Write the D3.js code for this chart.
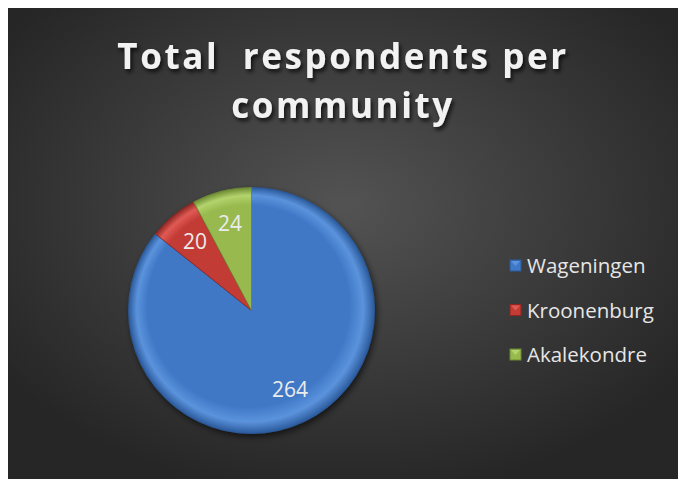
<!DOCTYPE html>
<html>
<head>
<meta charset="utf-8">
<script src="https://cdn.jsdelivr.net/npm/d3@7"></script>
<style>
  html, body { margin: 0; padding: 0; background: #ffffff; }
  svg { display: block; }
</style>
</head>
<body>
<svg id="chart" width="678" height="479"></svg>
<script>
// Respondents per community
const communities = ["Wageningen", "Kroonenburg", "Akalekondre"];
const respondents = [264, 20, 24];
const titleLines = ["Total  respondents per", "community"];

// Slice palettes: [light, base, dark]
const palette = [
  ["#5b93dc", "#3f78c6", "#2b5a9c"],
  ["#e05a54", "#c23b35", "#8e2622"],
  ["#b3d36c", "#97b94e", "#6d8a32"]
];

const W = 678, H = 479;
const svg = d3.select("#chart");
const defs = svg.append("defs");

// Background panel gradient
const bg = defs.append("radialGradient").attr("id", "bg")
  .attr("cx", 0.5).attr("cy", 0.42).attr("r", 0.62);
bg.append("stop").attr("offset", "0%").attr("stop-color", "#535353");
bg.append("stop").attr("offset", "100%").attr("stop-color", "#262626");

svg.append("rect").attr("x", 8).attr("y", 8)
  .attr("width", W - 8).attr("height", H - 8).attr("fill", "url(#bg)");

// Title shadow
const ts = defs.append("filter").attr("id", "tshadow")
  .attr("x", "-10%").attr("y", "-30%").attr("width", "120%").attr("height", "160%");
ts.append("feDropShadow").attr("dx", 2).attr("dy", 3).attr("stdDeviation", 2)
  .attr("flood-color", "#000").attr("flood-opacity", 0.75);

const title = svg.append("text")
  .attr("text-anchor", "middle")
  .attr("font-family", "'Open Sans', 'DejaVu Sans', sans-serif")
  .attr("font-weight", "bold")
  .attr("font-size", 35)
  .attr("letter-spacing", 2.6)
  .attr("fill", "#f2f2f2")
  .attr("filter", "url(#tshadow)")
  .style("white-space", "pre");
title.selectAll("tspan").data(titleLines).join("tspan")
  .attr("x", 343)
  .attr("y", (d, i) => 69 + i * 49)
  .text(d => d);

// Pie
const cx = 251.5, cy = 310.5, R = 123;
const pie = d3.pie().sort(null).value(d => d)(respondents);
const arc = d3.arc().innerRadius(0).outerRadius(R);
const labelArc = d3.arc().innerRadius(R * 0.72).outerRadius(R * 0.72);

palette.forEach((p, i) => {
  const g = defs.append("radialGradient").attr("id", "slice" + i)
    .attr("gradientUnits", "userSpaceOnUse")
    .attr("cx", 0).attr("cy", 0).attr("r", R)
    .attr("fx", -R * 0.15).attr("fy", -R * 0.2);
  g.append("stop").attr("offset", "0%").attr("stop-color", p[1]);
  g.append("stop").attr("offset", "82%").attr("stop-color", p[1]);
  g.append("stop").attr("offset", "92%").attr("stop-color", p[0]);
  g.append("stop").attr("offset", "100%").attr("stop-color", p[2]);
});

const ps = defs.append("filter").attr("id", "pshadow")
  .attr("x", "-20%").attr("y", "-20%").attr("width", "140%").attr("height", "140%");
ps.append("feDropShadow").attr("dx", 2).attr("dy", 3).attr("stdDeviation", 3)
  .attr("flood-color", "#000").attr("flood-opacity", 0.6);

const pg = svg.append("g").attr("transform", `translate(${cx},${cy})`);
pg.append("g").attr("filter", "url(#pshadow)")
  .selectAll("path").data(pie).join("path")
  .attr("d", arc)
  .attr("fill", (d, i) => `url(#slice${i})`)
  .attr("stroke", (d, i) => palette[i][2])
  .attr("stroke-width", 0.8)
  .attr("stroke-linejoin", "round");

pg.selectAll("text").data(pie).join("text")
  .attr("transform", d => `translate(${labelArc.centroid(d)})`)
  .attr("text-anchor", "middle")
  .attr("dy", "0.3em")
  .attr("font-family", "'Open Sans', 'DejaVu Sans', sans-serif")
  .attr("font-size", 21)
  .attr("fill", "#ececec")
  .text(d => d.data);

// Legend
const legend = svg.append("g").attr("transform", "translate(510,266)");
const rows = legend.selectAll("g").data(communities).join("g")
  .attr("transform", (d, i) => `translate(0,${i * 44.5})`);
rows.append("rect")
  .attr("x", 0).attr("y", -6).attr("width", 11).attr("height", 11)
  .attr("fill", (d, i) => palette[i][1])
  .attr("stroke", (d, i) => palette[i][2]).attr("stroke-width", 1);
rows.append("path")
  .attr("d", "M1,-5 L10,-5 L5.5,0 Z")
  .attr("fill", (d, i) => palette[i][0]);
rows.append("text")
  .attr("x", 17).attr("dy", "0.35em")
  .attr("font-family", "'Open Sans', 'DejaVu Sans', sans-serif")
  .attr("font-size", 20.5)
  .attr("fill", "#e6e6e6")
  .text(d => d);
</script>
</body>
</html>
